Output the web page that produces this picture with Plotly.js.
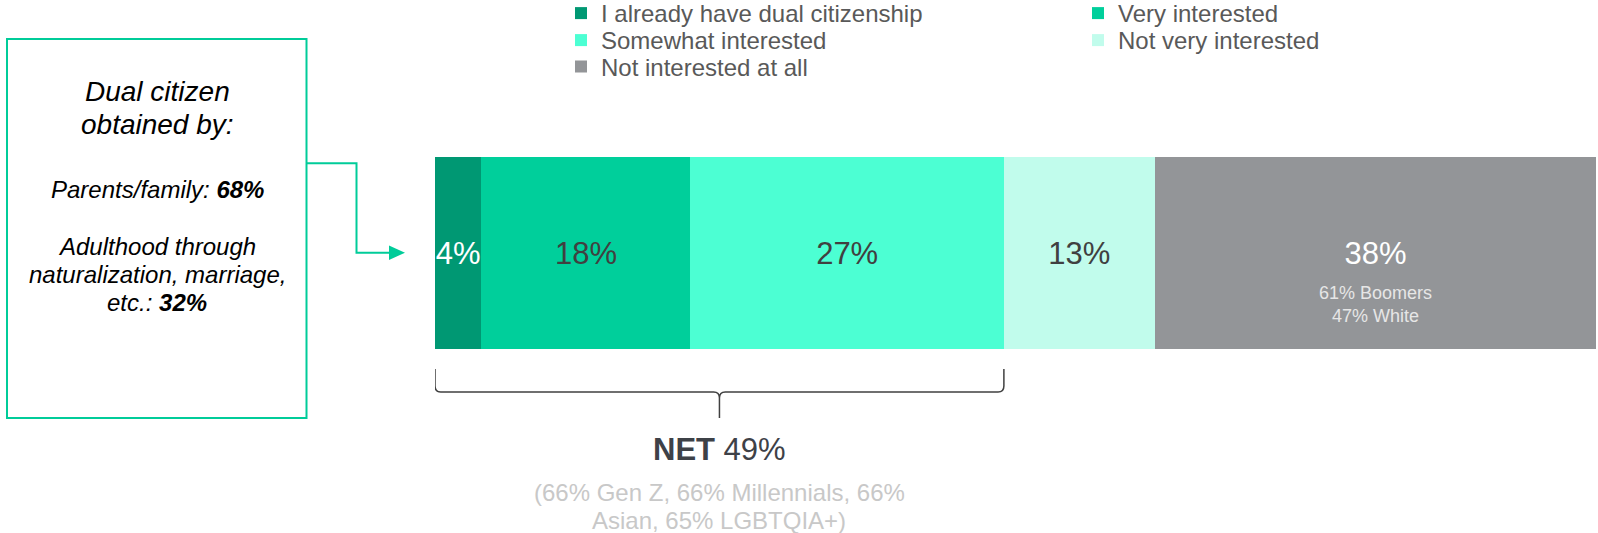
<!DOCTYPE html>
<html>
<head>
<meta charset="utf-8">
<script src="https://cdn.plot.ly/plotly-3.0.1.min.js"></script>
<style>html,body{margin:0;padding:0;background:#ffffff;}</style>
</head>
<body>
<div id="chart" style="width:1598px;height:533px;"></div>
<script>
// ---- data ----
const categories = ['Total'];
const seriesNames = ['I already have dual citizenship', 'Very interested', 'Somewhat interested', 'Not very interested', 'Not interested at all'];
const seriesValues = [4, 18, 27, 13, 38];
const seriesColors = ['#009873', '#00CF9B', '#4CFFD3', '#C1FCEC', '#939598'];
const labelColors = ['#ffffff', '#404040', '#404040', '#404040', '#ffffff'];
const notInterestedNotes = ['61% Boomers', '47% White'];
const netLabel = 'NET';
const netNotes = ['(66% Gen Z, 66% Millennials, 66%', 'Asian, 65% LGBTQIA+)'];
const boxTitleLines = ['Dual citizen', 'obtained by:'];
const obtainedLabels = ['Parents/family', 'Adulthood through naturalization, marriage, etc.'];
const obtainedValues = [68, 32];

// ---- helpers ----
const W = 1598, H = 533;
const FONT = '"Liberation Sans", Arial, Helvetica, sans-serif';
const px = v => v / W;
const py = v => 1 - v / H;

const netCount = 3; // first three segments form the NET
const netValue = seriesValues.slice(0, netCount).reduce((a, b) => a + b, 0);
const lastStart = seriesValues.slice(0, 4).reduce((a, b) => a + b, 0);
const lastCenter = lastStart + seriesValues[4] / 2;

// ---- traces ----
const traces = seriesNames.map((name, i) => ({
  type: 'bar',
  orientation: 'h',
  name: name,
  y: categories,
  x: [seriesValues[i]],
  marker: { color: seriesColors[i], line: { width: 0 } },
  text: [seriesValues[i] + '%'],
  textposition: 'inside',
  insidetextanchor: 'middle',
  textangle: 0,
  constraintext: 'none',
  textfont: { family: FONT, size: 31, color: labelColors[i] },
  hoverinfo: 'skip',
  legend: i === 0 ? 'legend' : 'legend' + (i + 1)
}));

// ---- legends (two columns) ----
const legendRows = [13.5, 40.5, 67];
const legendTextStart = [601, 1118];
const legendSlots = [[0, 0], [1, 0], [0, 1], [1, 1], [0, 2]];
const layout = {
  width: W, height: H,
  margin: { l: 0, r: 0, t: 0, b: 0, autoexpand: false },
  paper_bgcolor: '#ffffff', plot_bgcolor: '#ffffff',
  barmode: 'stack', bargap: 0,
  showlegend: true,
  xaxis: { domain: [px(435), px(1596)], range: [0, 100], visible: false, fixedrange: true },
  yaxis: { domain: [py(349), py(157)], range: [-0.5, 0.5], visible: false, fixedrange: true },
  font: { family: FONT },
  shapes: [],
  annotations: []
};
legendSlots.forEach((s, i) => {
  const key = i === 0 ? 'legend' : 'legend' + (i + 1);
  layout[key] = {
    x: px(legendTextStart[s[0]] - 40), y: py(legendRows[s[1]]),
    xanchor: 'left', yanchor: 'middle',
    orientation: 'v',
    bgcolor: 'rgba(0,0,0,0)', borderwidth: 0,
    font: { family: FONT, size: 24, color: '#595959' },
    itemclick: false, itemdoubleclick: false
  };
});

// ---- left box ----
const GREEN = '#00CC99';
layout.shapes.push({
  type: 'rect', xref: 'paper', yref: 'paper',
  x0: px(7), x1: px(306.5), y0: py(418), y1: py(39),
  line: { color: GREEN, width: 2 }, fillcolor: 'rgba(0,0,0,0)'
});
// connector arrow
layout.shapes.push({
  type: 'path', xref: 'paper', yref: 'paper',
  path: `M${px(306.5)},${py(163.3)} H${px(356.5)} V${py(252.7)} H${px(392)}`,
  line: { color: GREEN, width: 2 }
});
layout.shapes.push({
  type: 'path', xref: 'paper', yref: 'paper',
  path: `M${px(389)},${py(245.5)} L${px(405)},${py(252.7)} L${px(389)},${py(259.9)} Z`,
  line: { color: GREEN, width: 0 }, fillcolor: GREEN
});

// brace under the NET segments (x in data units)
const rx = 0.5;
const xc = netValue / 2;
const yTop = py(369), yMid0 = py(386), yH = py(392), yDn = py(398), yTip = py(418);
const bracePath =
  `M0,${yTop} L0,${yMid0} Q0,${yH} ${rx},${yH} L${xc - rx},${yH} Q${xc},${yH} ${xc},${yDn} L${xc},${yTip} ` +
  `M${netValue},${yTop} L${netValue},${yMid0} Q${netValue},${yH} ${netValue - rx},${yH} L${xc + rx},${yH} Q${xc},${yH} ${xc},${yDn}`;
layout.shapes.push({
  type: 'path', xref: 'x', yref: 'paper', path: bracePath,
  line: { color: '#404040', width: 1.5 }
});

// ---- annotations ----
function note(text, x, y, size, color, xref) {
  layout.annotations.push({
    text: text, x: x, y: y, xref: xref || 'paper', yref: 'paper',
    xanchor: 'center', yanchor: 'middle', showarrow: false,
    font: { family: FONT, size: size, color: color }
  });
}
const boxCx = px(157);
note('<i>' + boxTitleLines[0] + '</i>', boxCx, py(92), 28, '#000000');
note('<i>' + boxTitleLines[1] + '</i>', boxCx, py(124.5), 28, '#000000');
note('<i>' + obtainedLabels[0] + ': <b>' + obtainedValues[0] + '%</b></i>', boxCx, py(189.5), 24, '#000000');
const adultWords = obtainedLabels[1].split(' ');
note('<i>' + adultWords.slice(0, 2).join(' ') + '</i>', boxCx, py(246.5), 24, '#000000');
note('<i>' + adultWords.slice(2, 4).join(' ') + '</i>', boxCx, py(274), 24, '#000000');
note('<i>' + adultWords.slice(4).join(' ') + ': <b>' + obtainedValues[1] + '%</b></i>', boxCx, py(302.5), 24, '#000000');

note(notInterestedNotes[0], lastCenter, py(293), 18, '#E6E6E6', 'x');
note(notInterestedNotes[1], lastCenter, py(316), 18, '#E6E6E6', 'x');

note('<b>' + netLabel + '</b> ' + netValue + '%', xc, py(449), 31, '#3E4147', 'x');
note(netNotes[0], xc, py(492), 24, '#C8C8C8', 'x');
note(netNotes[1], xc, py(520), 24, '#C8C8C8', 'x');

Plotly.newPlot('chart', traces, layout, { staticPlot: true, displayModeBar: false });
</script>
</body>
</html>
